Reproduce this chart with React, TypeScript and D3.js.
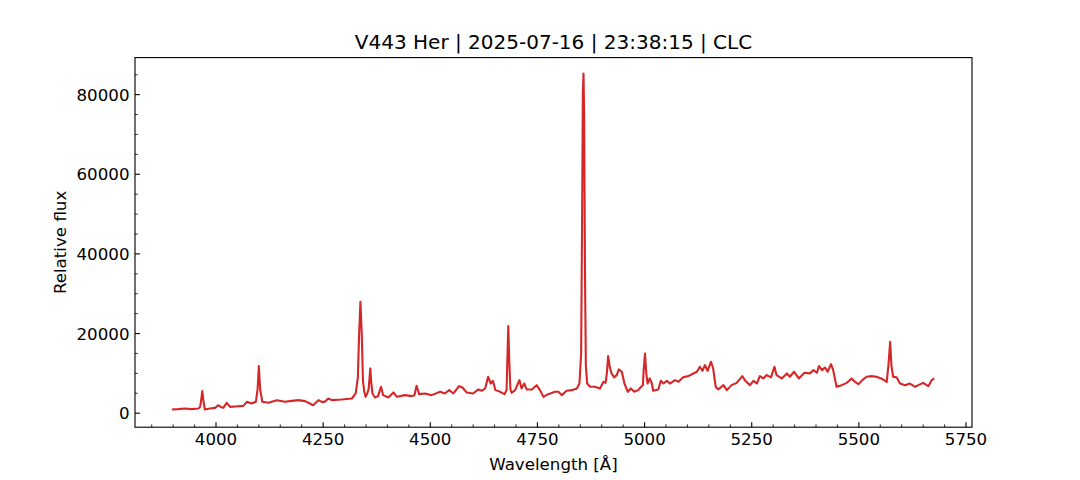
import * as d3 from "d3";
import { useEffect, useRef } from "react";

// spectrum: wavelength (Å) and relative flux
const wavelength = [
  3897, 3912, 3928, 3943, 3959, 3963, 3966, 3968, 3971, 3974, 3986, 3998, 4005, 4012, 4017, 4025, 4033, 4052,
  4064, 4072, 4083, 4093, 4097, 4100, 4103, 4108, 4122, 4142, 4161, 4177, 4192, 4208, 4219, 4227, 4239, 4247,
  4254, 4262, 4270, 4293, 4317, 4326, 4331, 4334, 4337, 4340, 4343, 4346, 4349, 4353, 4356, 4358, 4360, 4362,
  4365, 4371, 4378, 4385, 4390, 4402, 4414, 4422, 4441, 4457, 4463, 4468, 4474, 4488, 4503, 4523, 4534, 4544,
  4554, 4567, 4575, 4585, 4600, 4612, 4620, 4628, 4635, 4641, 4646, 4652, 4663, 4673, 4678, 4680, 4682, 4684,
  4687, 4690, 4698, 4708, 4713, 4719, 4725, 4737, 4748, 4756, 4764, 4775, 4791, 4799, 4807, 4818, 4830, 4842,
  4848, 4852, 4854, 4856, 4857.5, 4859, 4861, 4863, 4866, 4873, 4884, 4896, 4904, 4909, 4912, 4915, 4919, 4923,
  4929, 4935, 4940, 4947, 4953, 4961, 4968, 4976, 4985, 4992, 4996, 4998, 5001, 5004, 5007, 5012, 5017, 5020,
  5032, 5038, 5044, 5052, 5059, 5071, 5079, 5090, 5102, 5114, 5122, 5129, 5135, 5141, 5147, 5155, 5160, 5166,
  5172, 5184, 5192, 5203, 5215, 5228, 5234, 5246, 5254, 5262, 5269, 5277, 5285, 5295, 5303, 5308, 5320, 5332,
  5339, 5349, 5360, 5373, 5386, 5394, 5402, 5407, 5414, 5421, 5427, 5435, 5440, 5448, 5460, 5472, 5483, 5491,
  5499, 5508, 5518, 5530, 5541, 5552, 5559, 5565, 5569, 5573, 5576, 5580, 5588, 5596, 5608, 5619, 5631, 5639,
  5650, 5662, 5670, 5676,
];
const flux = [
  930, 1010, 1180, 1010, 1180, 1590, 3800, 5530, 2800, 930, 1180, 1340, 2000, 1500, 1340, 2600, 1590, 1760,
  1840, 2850, 2430, 2850, 6000, 11820, 6000, 2850, 2600, 3270, 2850, 3100, 3270, 3020, 2430, 2000, 3270, 2850,
  2850, 3690, 3270, 3440, 3690, 4950, 9000, 20000, 28000, 20000, 8000, 5370, 4110, 4950, 6000, 8500, 11240, 8000,
  4950, 3940, 4280, 6630, 4530, 3940, 5200, 4110, 4530, 4280, 4530, 6880, 4780, 4950, 4530, 5370, 4950, 5790,
  4950, 6790, 6460, 5200, 4950, 5960, 5620, 6200, 9140, 7450, 8130, 5790, 5370, 4780, 5790, 14000, 21900, 14000,
  6000, 5120, 5790, 8300, 6210, 7450, 5960, 5960, 7040, 5790, 4110, 4780, 5370, 5370, 4530, 5620, 5790, 6210,
  7450, 15000, 45000, 80000, 85300, 75000, 35000, 12000, 7450, 6630, 6630, 6210, 7880, 7620, 10000, 14340, 11500, 9980,
  9000, 9560, 10990, 10400, 7450, 5370, 6210, 5370, 5790, 6630, 7000, 11000, 15000, 10000, 7450, 8720, 7450, 5620,
  5960, 8130, 7450, 8130, 7450, 8300, 7880, 9000, 9310, 9980, 10400, 11660, 10650, 12080, 10650, 12920, 11240, 6630,
  5960, 7040, 5790, 7040, 7620, 9310, 8300, 7040, 8130, 7450, 9310, 8720, 9560, 9000, 11660, 9560, 8720, 9980,
  9140, 10400, 8720, 10150, 10000, 10820, 10150, 11820, 10820, 11490, 10400, 12320, 10820, 6630, 7040, 7620, 8720, 7880,
  7290, 8300, 9140, 9310, 9140, 8720, 8300, 7880, 12000, 17940, 12000, 9140, 9000, 7450, 7040, 7450, 6630, 7040,
  7620, 6790, 8300, 8720,
];

const xTicks = [4000, 4250, 4500, 4750, 5000, 5250, 5500, 5750];
const yTicks = [0, 20000, 40000, 60000, 80000];

const W = 1080;
const H = 480;
const margin = { top: 57.6, right: 108, bottom: 52.8, left: 135 };

const App = () => {
  const ref = useRef<SVGSVGElement>(null);

  useEffect(() => {
    const svg = d3.select(ref.current);
    svg.selectAll("*").remove();

    const left = margin.left;
    const right = W - margin.right;
    const top = margin.top;
    const bottom = H - margin.bottom;

    const x = d3.scaleLinear().domain([3811, 5764]).range([left, right]);
    const y = d3.scaleLinear().domain([-3520, 89300]).range([bottom, top]);

    const font = "'DejaVu Sans', sans-serif";
    const fs = 16.67;

    svg.append("rect").attr("width", W).attr("height", H).attr("fill", "#fff");

    // spectrum
    const pts = wavelength.map((w, i) => [w, flux[i]] as [number, number]);
    const line = d3.line<[number, number]>().x((d) => x(d[0])).y((d) => y(d[1]));
    svg.append("path")
      .datum(pts)
      .attr("d", line)
      .attr("fill", "none")
      .attr("stroke", "#d62728")
      .attr("stroke-width", 2.1)
      .attr("stroke-linejoin", "round");

    // frame
    svg.append("rect")
      .attr("x", left).attr("y", top)
      .attr("width", right - left).attr("height", bottom - top)
      .attr("fill", "none").attr("stroke", "#000").attr("stroke-width", 1.11);

    // x ticks (inward)
    const xMinor = d3.range(3850, 5751, 50).filter((v) => !xTicks.includes(v));
    svg.selectAll(".xminor").data(xMinor).enter().append("line")
      .attr("x1", (d) => x(d)).attr("x2", (d) => x(d))
      .attr("y1", bottom).attr("y2", bottom - 2.78)
      .attr("stroke", "#000").attr("stroke-width", 0.83);
    svg.selectAll(".xmajor").data(xTicks).enter().append("line")
      .attr("x1", (d) => x(d)).attr("x2", (d) => x(d))
      .attr("y1", bottom).attr("y2", bottom - 4.86)
      .attr("stroke", "#000").attr("stroke-width", 1.11);
    svg.selectAll(".xlabel").data(xTicks).enter().append("text")
      .attr("x", (d) => x(d)).attr("y", bottom + 17.5)
      .attr("text-anchor", "middle")
      .attr("font-family", font).attr("font-size", fs)
      .text((d) => String(d));

    // y ticks (inward)
    const yMinor = d3.range(5000, 85001, 5000).filter((v) => !yTicks.includes(v));
    svg.selectAll(".yminor").data(yMinor).enter().append("line")
      .attr("x1", left).attr("x2", left + 2.78)
      .attr("y1", (d) => y(d)).attr("y2", (d) => y(d))
      .attr("stroke", "#000").attr("stroke-width", 0.83);
    svg.selectAll(".ymajor").data(yTicks).enter().append("line")
      .attr("x1", left).attr("x2", left + 4.86)
      .attr("y1", (d) => y(d)).attr("y2", (d) => y(d))
      .attr("stroke", "#000").attr("stroke-width", 1.11);
    svg.selectAll(".ylabel").data(yTicks).enter().append("text")
      .attr("x", left - 5.5).attr("y", (d) => y(d) + 6)
      .attr("text-anchor", "end")
      .attr("font-family", font).attr("font-size", fs)
      .text((d) => String(d));

    // titles
    svg.append("text")
      .attr("x", (left + right) / 2).attr("y", top - 8.5)
      .attr("text-anchor", "middle")
      .attr("font-family", font).attr("font-size", 20)
      .text("V443 Her | 2025-07-16 | 23:38:15 | CLC");

    svg.append("text")
      .attr("x", (left + right) / 2).attr("y", bottom + 43)
      .attr("text-anchor", "middle")
      .attr("font-family", font).attr("font-size", fs)
      .text("Wavelength [Å]");

    svg.append("text")
      .attr("transform", `translate(66,${(top + bottom) / 2}) rotate(-90)`)
      .attr("text-anchor", "middle")
      .attr("font-family", font).attr("font-size", fs)
      .text("Relative flux");
  }, []);

  return (
    <svg ref={ref} width={W} height={H} style={{ position: "absolute", left: 0, top: 0 }} />
  );
};

export default App;
